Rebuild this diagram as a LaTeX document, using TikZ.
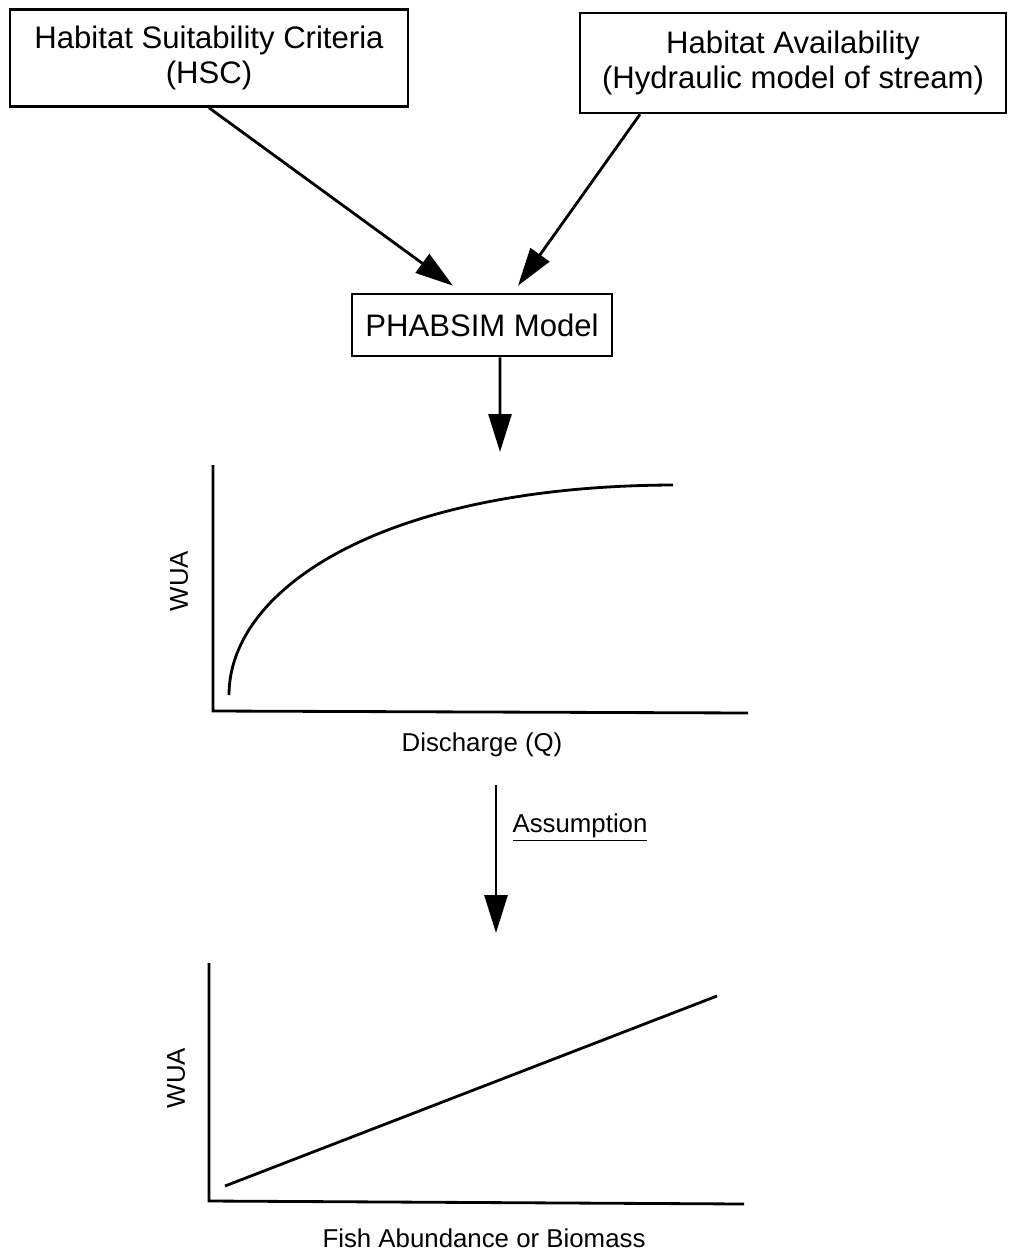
\documentclass[tikz,border=0pt]{standalone}
\usepackage{fontspec}
\setmainfont{Liberation Sans}
\usetikzlibrary{arrows.meta}

\begin{document}
\begin{tikzpicture}[x=0.02cm, y=-0.02cm, line width=1.6pt,
    >={Triangle[length=0.76cm, width=0.46cm]},
    box/.style={draw, line width=1.5pt, align=center, inner sep=0pt,
      font=\fontsize{17.7}{20}\selectfont},
    lbl/.style={inner sep=0pt, font=\fontsize{14.7}{17}\selectfont}]

        \useasboundingbox (0,0) rectangle (1008,1257);

        % Input boxes
        \node[box, minimum width=7.96cm, minimum height=1.94cm] (hsc) at (209,58) {Habitat Suitability Criteria\\(HSC)};
        \node[box, minimum width=8.52cm, minimum height=2.0cm] (ha) at (793,63) {Habitat Availability\\(Hydraulic model of stream)};

        % Model box
        \node[box, minimum width=5.2cm, minimum height=1.24cm] (phab) at (482,325) {PHABSIM Model};

        % Arrows into the model
        \draw[->] (hsc.south) -- ([shift={(-29,-7)}]phab.north);
        \draw[->] ([xshift=-3.06cm]ha.south) -- ([shift={(36,-7)}]phab.north);

        % Arrow down to the first graph
        \coordinate (q1) at (500,452);
        \draw[->] ([xshift=0.36cm]phab.south) -- (q1);

        % First graph: WUA against discharge
        \draw (213,465) -- (213,711) -- (748,713);
        \draw (229,695) .. controls (229,590) and (380,486) .. (673,485);
        \node[lbl, rotate=90] (wua1) at (179,581) {WUA};
        \node[lbl] (dis) at (482,745) {Discharge (Q)};

        % Assumption arrow
        \coordinate (a0) at (496,785);
        \coordinate (a1) at (496,933);
        \draw[->] (a0) -- (a1);
        \node[lbl] (assum) at (580,828) {\underline{Assumption}};

        % Second graph: WUA against fish abundance
        \draw (209,963) -- (209,1201) -- (744,1204);
        \draw (225,1186) -- (717,996);
        \node[lbl, rotate=90] (wua2) at (176,1078) {WUA};
        \node[lbl] (fish) at (484,1238) {Fish Abundance or Biomass};

      \end{tikzpicture}
\end{document}
